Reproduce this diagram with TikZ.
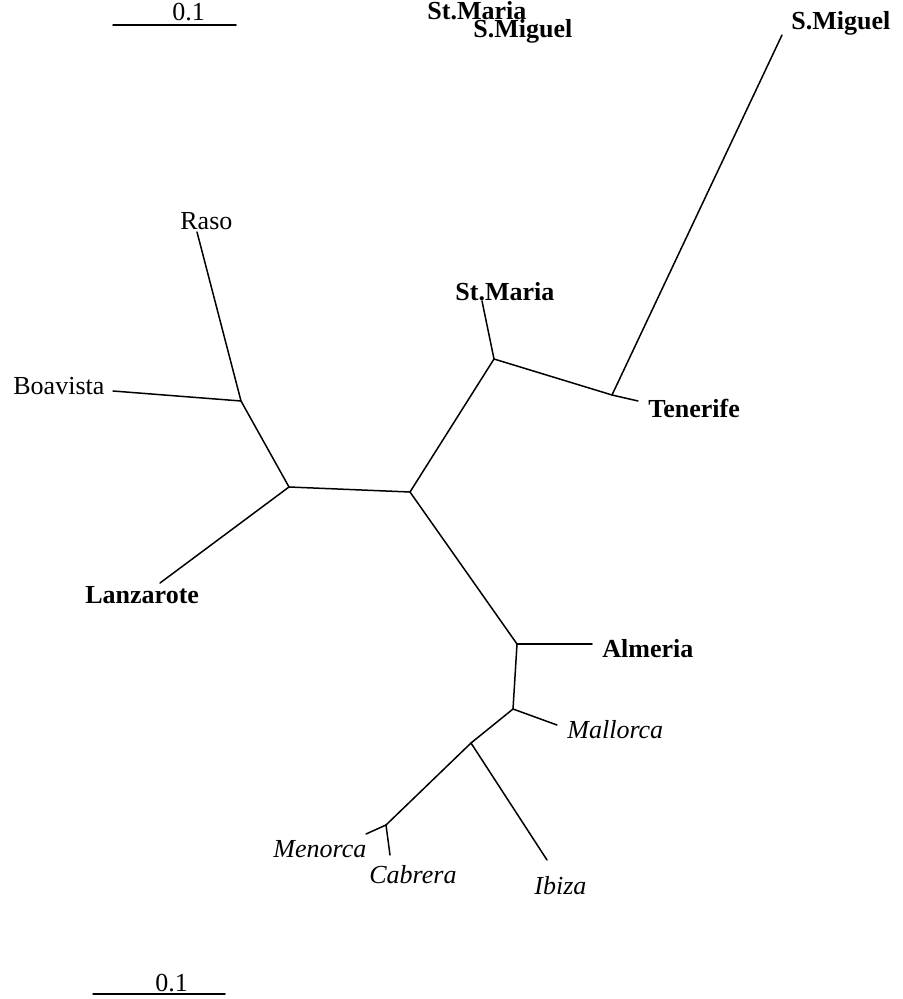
\documentclass[tikz,border=0pt]{standalone}
\usepackage{fontspec}
\setmainfont{Liberation Serif}
\begin{document}
\begin{tikzpicture}[x=0.5pt,y=-0.5pt,
  br/.style={line width=0.75pt,line cap=round},
  lab/.style={anchor=base west,inner sep=0pt,font=\fontsize{13}{14}\selectfont},
  blab/.style={lab,font=\fontsize{13}{14}\selectfont\bfseries},
  ilab/.style={lab,font=\fontsize{13}{14}\selectfont\itshape}]
\useasboundingbox (0,0) rectangle (902,999);
% scale bars
\coordinate (s1a) at (113,25); \coordinate (s1b) at (236,25);
\draw[br] (s1a) -- (s1b);
\node[lab] (s1l) at (172,21) {0.1};
\coordinate (s2a) at (93,994); \coordinate (s2b) at (225,994);
\draw[br] (s2a) -- (s2b);
\node[lab] (s2l) at (155,991) {0.1};
% stray top labels
\node[blab] (tsm) at (427,20) {St.Maria};
\node[blab] (tsg) at (473,38) {S.Miguel};
% internal nodes
\coordinate (C) at (410,492);
\coordinate (L) at (289,487);
\coordinate (BR) at (241,401);
\coordinate (ST) at (494,359);
\coordinate (T) at (612,395);
\coordinate (A) at (517,644);
\coordinate (M) at (513,709);
\coordinate (I) at (471,743);
\coordinate (MC) at (386,825);
% tips
\coordinate (raso) at (197,232);
\coordinate (boav) at (113,391);
\coordinate (lanz) at (160,583);
\coordinate (stm) at (482,301);
\coordinate (smg) at (782,35);
\coordinate (ten) at (638,401);
\coordinate (alm) at (592,644);
\coordinate (mal) at (557,725);
\coordinate (ibz) at (547,860);
\coordinate (men) at (366,834);
\coordinate (cab) at (390,855);
% branches
\draw[br] (C) -- (L);
\draw[br] (L) -- (BR);
\draw[br] (BR) -- (raso);
\draw[br] (BR) -- (boav);
\draw[br] (L) -- (lanz);
\draw[br] (C) -- (ST);
\draw[br] (ST) -- (stm);
\draw[br] (ST) -- (T);
\draw[br] (T) -- (smg);
\draw[br] (T) -- (ten);
\draw[br] (C) -- (A);
\draw[br] (A) -- (alm);
\draw[br] (A) -- (M);
\draw[br] (M) -- (mal);
\draw[br] (M) -- (I);
\draw[br] (I) -- (ibz);
\draw[br] (I) -- (MC);
\draw[br] (MC) -- (men);
\draw[br] (MC) -- (cab);
% labels
\node[lab] (lraso) at (180,230) {Raso};
\node[lab] (lboav) at (13,394) {Boavista};
\node[blab] (llanz) at (85,603) {Lanzarote};
\node[blab] (lstm) at (455,301) {St.Maria};
\node[blab] (lsmg) at (791,30) {S.Miguel};
\node[blab] (lten) at (648,417) {Tenerife};
\node[blab] (lalm) at (602,657) {Almeria};
\node[ilab] (lmal) at (567,738) {Mallorca};
\node[ilab] (libz) at (534,894) {Ibiza};
\node[ilab] (lmen) at (273,857) {Menorca};
\node[ilab] (lcab) at (369,883) {Cabrera};
\end{tikzpicture}
\end{document}
